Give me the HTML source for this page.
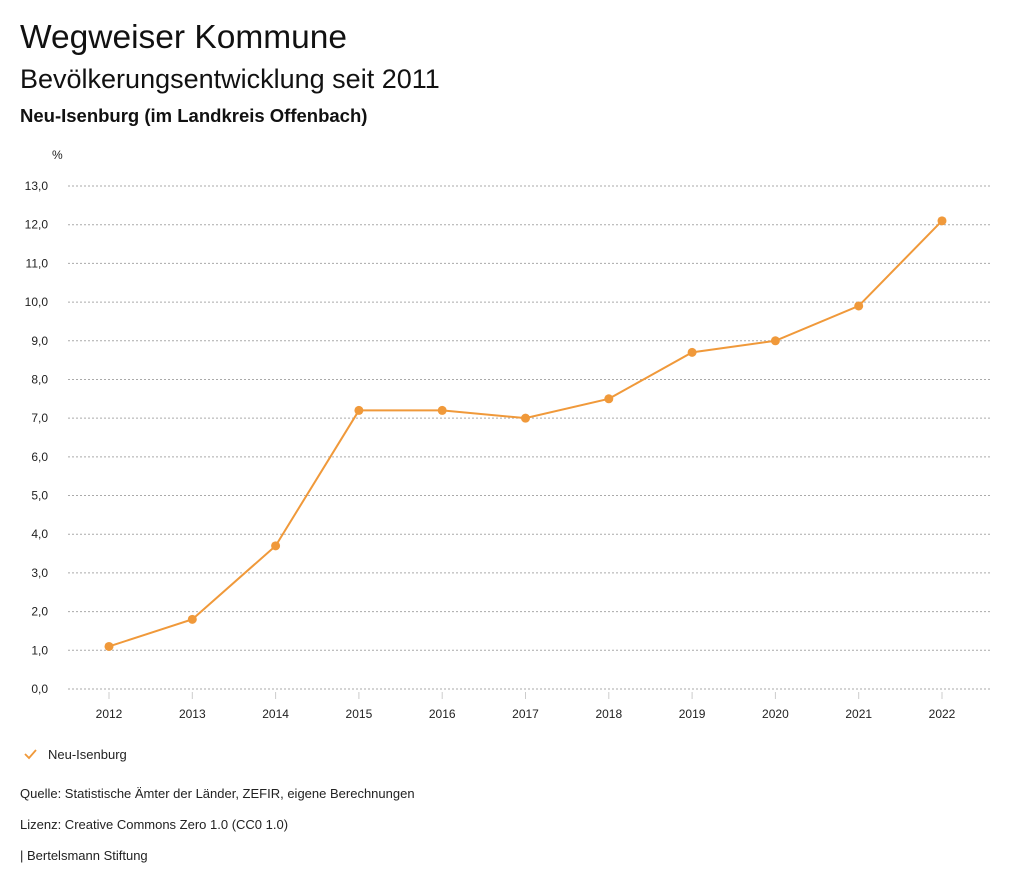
<!DOCTYPE html>
<html><head><meta charset="utf-8">
<style>
body{margin:0;background:#fff;font-family:"Liberation Sans",sans-serif;color:#111;}
svg text{font-family:"Liberation Sans",sans-serif;}
</style></head>
<body>
<svg id="chart" width="1024" height="888" xmlns="http://www.w3.org/2000/svg">
<text x="20" y="48" font-size="33.5" fill="#111">Wegweiser Kommune</text>
<text x="20" y="88" font-size="27" fill="#111">Bevölkerungsentwicklung seit 2011</text>
<text x="20" y="122" font-size="18.5" font-weight="bold" fill="#111">Neu-Isenburg (im Landkreis Offenbach)</text>
<text x="52" y="159" font-size="12" fill="#222">%</text>
<g id="grid"></g><g id="xaxis"></g><g id="series"></g>
<g>
<path d="M25 754 L29 758 L36 750" stroke="#f0993a" stroke-width="1.8" fill="none"/>
<text x="48" y="759" font-size="13" fill="#222">Neu-Isenburg</text>
</g>
<text x="20" y="798" font-size="13" fill="#222">Quelle: Statistische Ämter der Länder, ZEFIR, eigene Berechnungen</text>
<text x="20" y="829" font-size="13" fill="#222">Lizenz: Creative Commons Zero 1.0 (CC0 1.0)</text>
<text x="20" y="860" font-size="13" fill="#222">| Bertelsmann Stiftung</text>
</svg>
<script>
const years=[2012,2013,2014,2015,2016,2017,2018,2019,2020,2021,2022];
const values=[1.1,1.8,3.7,7.2,7.2,7.0,7.5,8.7,9.0,9.9,12.1];
const yTicks=[0,1,2,3,4,5,6,7,8,9,10,11,12,13];
const NS="http://www.w3.org/2000/svg";
const y=v=>689-v*(503/13);
const x=i=>109+i*(833/(years.length-1));
function mk(tag,attrs,parent){const e=document.createElementNS(NS,tag);for(const k in attrs)e.setAttribute(k,attrs[k]);parent.appendChild(e);return e;}
const grid=document.getElementById('grid');
yTicks.forEach(t=>{
 const l=mk('line',{x1:68,x2:990,y1:y(t),y2:y(t),stroke:'#aaa','stroke-dasharray':'2,2','stroke-width':1},grid);
 
 
 const tx=mk('text',{x:48,y:y(t)+4,'font-size':12,fill:'#222','text-anchor':'end'},grid);
 tx.textContent=t.toFixed(1).replace('.',',');
 
 
});
const xa=document.getElementById('xaxis');
years.forEach((yr,i)=>{
 const l=mk('line',{x1:x(i),x2:x(i),y1:692,y2:699,stroke:'#ccc'},xa);
 
 
 const t=mk('text',{x:x(i),y:718,'font-size':12,fill:'#222','text-anchor':'middle'},xa);
 t.textContent=yr;
 
 
});
const s=document.getElementById('series');
const pl=mk('polyline',{points:values.map((v,i)=>x(i)+','+y(v)).join(' '),fill:'none',stroke:'#f0993a','stroke-width':2},s);


values.forEach((v,i)=>{
 const c=mk('circle',{cx:x(i),cy:y(v),r:4.5,fill:'#f0993a'},s);
 
 
});
</script>
</body></html>
